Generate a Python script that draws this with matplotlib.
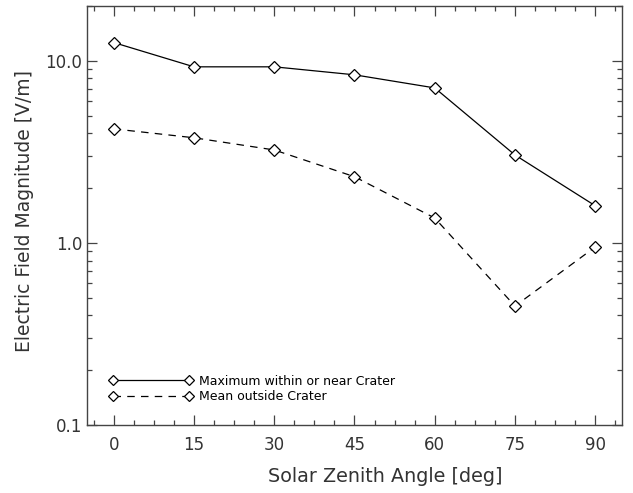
import matplotlib
matplotlib.use('Agg')
import matplotlib.pyplot as plt
from matplotlib.ticker import FixedLocator, MultipleLocator, LogLocator, NullFormatter

# データ
angles = [0, 15, 30, 45, 60, 75, 90]
max_field = [12.6, 9.27, 9.27, 8.38, 7.1, 3.04, 1.60]
mean_field = [4.23, 3.78, 3.24, 2.31, 1.37, 0.45, 0.95]
xtick_vals = [0, 15, 30, 45, 60, 75, 90]
ytick_vals = [0.1, 1.0, 10.0]
ytick_labels = ['0.1', '1.0', '10.0']

plt.rcParams['font.family'] = ['DejaVu Sans']
tc = '#333333'

fig = plt.figure(figsize=(6.33, 4.93), dpi=100)
ax = fig.add_axes([0.1374, 0.1379, 0.9826 - 0.1374, 0.9878 - 0.1379])

ax.plot(angles, max_field, color='black', lw=0.9, marker='D', ms=6,
        mfc='white', mec='black', mew=0.9, label='Maximum within or near Crater')
ax.plot(angles, mean_field, color='black', lw=0.9, ls=(0, (6, 5)), marker='D', ms=6,
        mfc='white', mec='black', mew=0.9, label='Mean outside Crater')

ax.set_yscale('log')
ax.set_xlim(-5, 95)
ax.set_ylim(0.1, 20)

ax.xaxis.set_major_locator(FixedLocator(xtick_vals))
ax.xaxis.set_minor_locator(MultipleLocator(3.75))
ax.yaxis.set_major_locator(FixedLocator(ytick_vals))
ax.set_yticklabels(ytick_labels)
ax.yaxis.set_minor_locator(LogLocator(base=10, subs=range(2, 10)))
ax.yaxis.set_minor_formatter(NullFormatter())

ax.tick_params(which='both', direction='in', top=True, right=True, colors='#444444',
               labelcolor=tc, labelsize=12, width=0.9)
ax.tick_params(which='major', length=7)
ax.tick_params(which='minor', length=3.6)
ax.tick_params(axis='x', which='major', pad=8)
ax.tick_params(axis='y', which='major', pad=3.5)
for s in ax.spines.values():
    s.set_color('#444444')
    s.set_linewidth(1.0)

ax.set_xlabel('Solar Zenith Angle [deg]', fontsize=13.8, color=tc, labelpad=9, x=0.558)
ax.set_ylabel('Electric Field Magnitude [V/m]', fontsize=13.5, color=tc, labelpad=8, y=0.511)

ax.legend(loc='lower left', bbox_to_anchor=(0.030, 0.037), frameon=False, numpoints=2,
          handlelength=6.65, handletextpad=0.5, labelspacing=0.2, fontsize=9,
          markerscale=0.8, borderpad=0, labelcolor='black')

plt.savefig('out.png', dpi=100)
